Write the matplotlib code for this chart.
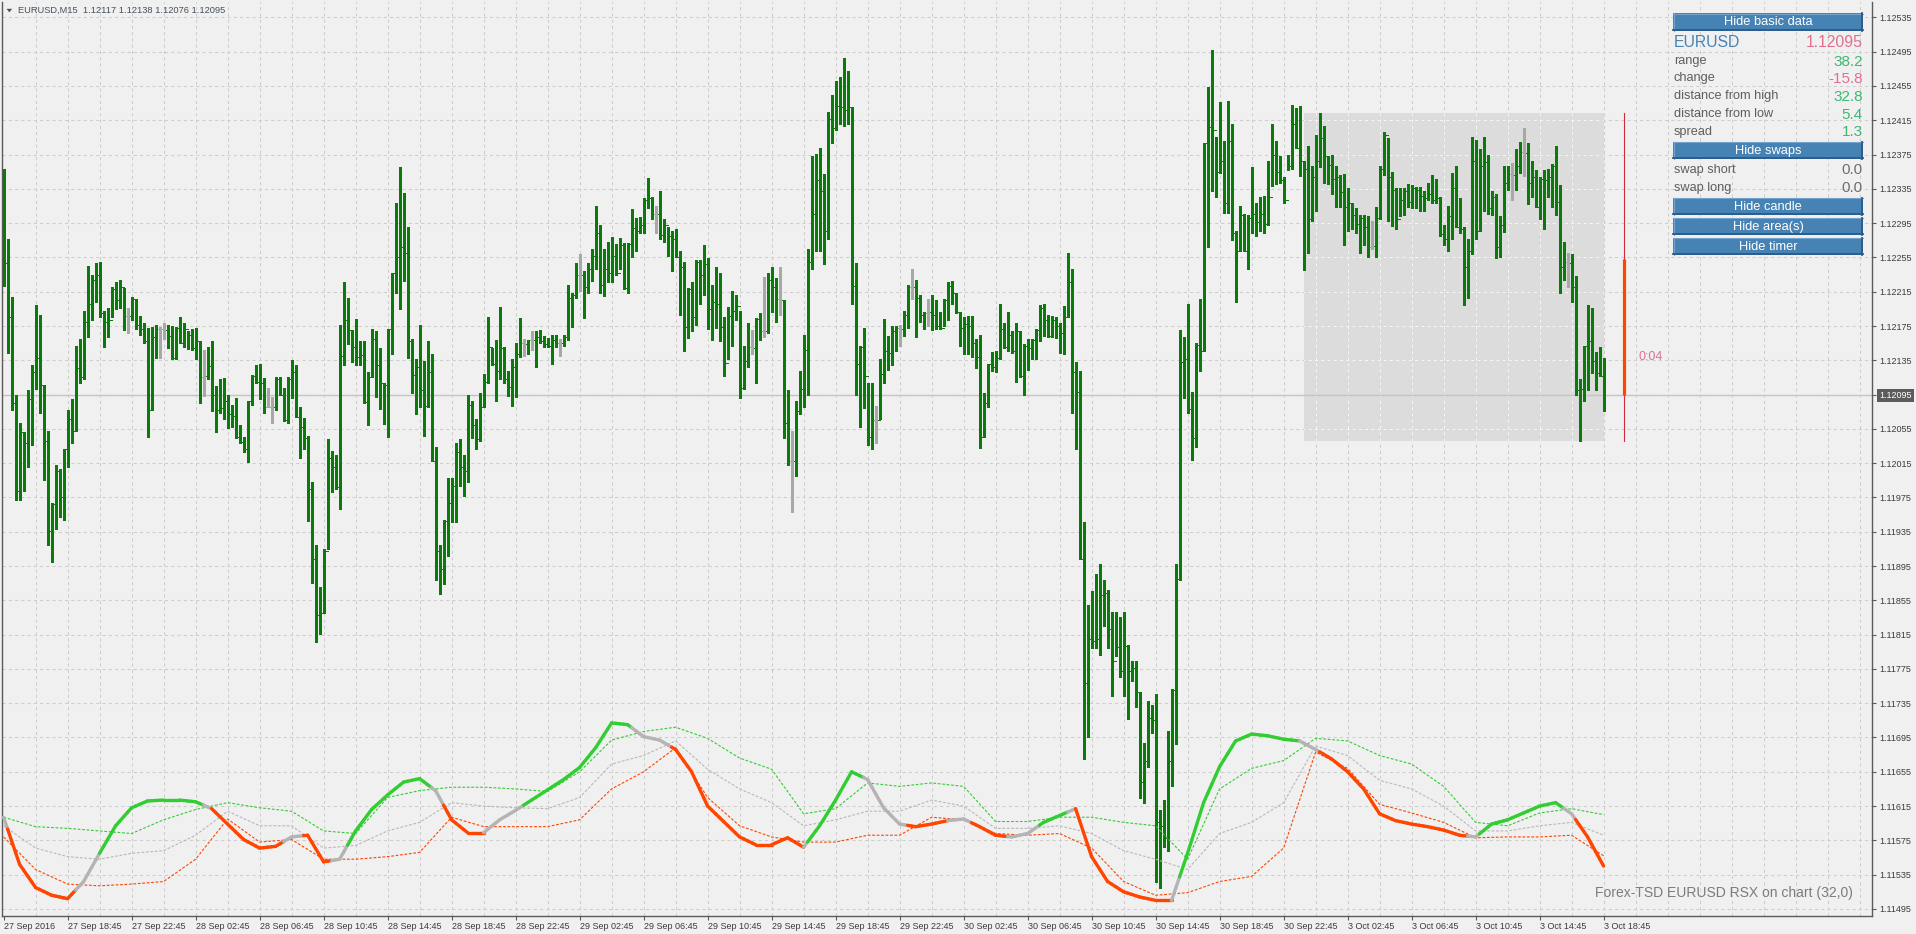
import numpy as np
import pandas as pd
import matplotlib
matplotlib.use("Agg")
import matplotlib.pyplot as plt
from matplotlib.collections import LineCollection
from matplotlib.patches import Rectangle, Polygon

plt.rcParams['font.family'] = ['Liberation Sans', 'DejaVu Sans']

# ---------------- data ----------------
symbol = "EURUSD"
timeframe = "M15"
first_bar_time = "2016-09-27 14:45"
last_bar_time = "2016-10-03 18:45"
first_open = 1.12290

highs = [
 1.12358, 1.12276, 1.12209, 1.12095, 1.12062, 1.12051, 1.12100, 1.12129, 1.12199, 1.12188,
 1.12106, 1.12052, 1.11969, 1.12013, 1.12008, 1.12032, 1.12077, 1.12090, 1.12152, 1.12160,
 1.12193, 1.12245, 1.12235, 1.12249, 1.12250, 1.12192, 1.12196, 1.12221, 1.12226, 1.12229,
 1.12219, 1.12196, 1.12209, 1.12206, 1.12187, 1.12178, 1.12173, 1.12174, 1.12176, 1.12174,
 1.12178, 1.12176, 1.12175, 1.12174, 1.12185, 1.12178, 1.12169, 1.12172, 1.12173, 1.12157,
 1.12147, 1.12150, 1.12157, 1.12105, 1.12113, 1.12114, 1.12095, 1.12083, 1.12091, 1.12060,
 1.12046, 1.12088, 1.12118, 1.12129, 1.12131, 1.12114, 1.12103, 1.12092, 1.12116, 1.12116,
 1.12103, 1.12116, 1.12135, 1.12129, 1.12080, 1.12068, 1.12047, 1.11993, 1.11920, 1.11871,
 1.11915, 1.12043, 1.12029, 1.12025, 1.12176, 1.12226, 1.12208, 1.12170, 1.12183, 1.12157,
 1.12158, 1.12121, 1.12172, 1.12169, 1.12149, 1.12108, 1.12172, 1.12237, 1.12319, 1.12360,
 1.12330, 1.12290, 1.12160, 1.12136, 1.12176, 1.12134, 1.12157, 1.12142, 1.12034, 1.11920,
 1.11949, 1.11998, 1.11998, 1.12038, 1.12043, 1.12025, 1.12095, 1.12087, 1.12067, 1.12097,
 1.12119, 1.12186, 1.12149, 1.12159, 1.12197, 1.12150, 1.12123, 1.12136, 1.12155, 1.12184,
 1.12160, 1.12159, 1.12169, 1.12169, 1.12170, 1.12163, 1.12161, 1.12164, 1.12164, 1.12160,
 1.12165, 1.12223, 1.12213, 1.12249, 1.12259, 1.12239, 1.12249, 1.12265, 1.12315, 1.12293,
 1.12265, 1.12273, 1.12279, 1.12271, 1.12278, 1.12272, 1.12272, 1.12311, 1.12301, 1.12302,
 1.12324, 1.12348, 1.12326, 1.12315, 1.12332, 1.12300, 1.12291, 1.12286, 1.12288, 1.12262,
 1.12250, 1.12219, 1.12226, 1.12252, 1.12252, 1.12270, 1.12254, 1.12223, 1.12244, 1.12237,
 1.12185, 1.12197, 1.12216, 1.12211, 1.12193, 1.12152, 1.12178, 1.12170, 1.12184, 1.12190,
 1.12232, 1.12237, 1.12244, 1.12231, 1.12244, 1.12205, 1.12100, 1.12053, 1.12088, 1.12123,
 1.12165, 1.12265, 1.12373, 1.12376, 1.12383, 1.12352, 1.12425, 1.12445, 1.12461, 1.12466,
 1.12488, 1.12473, 1.12430, 1.12248, 1.12152, 1.12173, 1.12108, 1.12108, 1.12082, 1.12137,
 1.12183, 1.12163, 1.12175, 1.12175, 1.12176, 1.12193, 1.12223, 1.12242, 1.12229, 1.12211,
 1.12191, 1.12206, 1.12211, 1.12205, 1.12191, 1.12207, 1.12226, 1.12228, 1.12213, 1.12191,
 1.12185, 1.12187, 1.12187, 1.12160, 1.12164, 1.12097, 1.12131, 1.12145, 1.12146, 1.12201,
 1.12178, 1.12191, 1.12169, 1.12178, 1.12169, 1.12154, 1.12160, 1.12160, 1.12172, 1.12199,
 1.12201, 1.12188, 1.12187, 1.12186, 1.12178, 1.12198, 1.12260, 1.12241, 1.12133, 1.12123,
 1.11946, 1.11849, 1.11866, 1.11886, 1.11897, 1.11879, 1.11867, 1.11841, 1.11841, 1.11835,
 1.11841, 1.11803, 1.11784, 1.11784, 1.11748, 1.11689, 1.11738, 1.11733, 1.11746, 1.11611,
 1.11622, 1.11702, 1.11751, 1.11897, 1.12170, 1.12162, 1.12201, 1.12098, 1.12155, 1.12207,
 1.12389, 1.12454, 1.12497, 1.12396, 1.12436, 1.12391, 1.12437, 1.12411, 1.12286, 1.12315,
 1.12306, 1.12304, 1.12361, 1.12319, 1.12326, 1.12327, 1.12368, 1.12411, 1.12391, 1.12373,
 1.12349, 1.12375, 1.12433, 1.12429, 1.12432, 1.12368, 1.12385, 1.12362, 1.12398, 1.12423,
 1.12408, 1.12373, 1.12375, 1.12362, 1.12351, 1.12352, 1.12336, 1.12319, 1.12313, 1.12305,
 1.12304, 1.12303, 1.12298, 1.12314, 1.12362, 1.12401, 1.12394, 1.12355, 1.12336, 1.12336,
 1.12336, 1.12341, 1.12339, 1.12337, 1.12337, 1.12332, 1.12342, 1.12351, 1.12347, 1.12326,
 1.12293, 1.12315, 1.12354, 1.12362, 1.12324, 1.12290, 1.12277, 1.12396, 1.12392, 1.12381,
 1.12396, 1.12375, 1.12332, 1.12329, 1.12303, 1.12362, 1.12362, 1.12365, 1.12381, 1.12390,
 1.12406, 1.12388, 1.12368, 1.12357, 1.12349, 1.12357, 1.12358, 1.12364, 1.12385, 1.12340,
 1.12273, 1.12260, 1.12259, 1.12233, 1.12113, 1.12152, 1.12200, 1.12196, 1.12145, 1.12151,
 1.12138]

lows = [
 1.12222, 1.12144, 1.12077, 1.11972, 1.11972, 1.11982, 1.12010, 1.12036, 1.12102, 1.12074,
 1.11995, 1.11920, 1.11900, 1.11938, 1.11952, 1.11949, 1.12010, 1.12039, 1.12053, 1.12108,
 1.12113, 1.12162, 1.12182, 1.12203, 1.12186, 1.12150, 1.12162, 1.12185, 1.12195, 1.12196,
 1.12170, 1.12167, 1.12182, 1.12172, 1.12164, 1.12155, 1.12045, 1.12077, 1.12138, 1.12138,
 1.12160, 1.12149, 1.12137, 1.12137, 1.12155, 1.12150, 1.12148, 1.12147, 1.12136, 1.12085,
 1.12093, 1.12113, 1.12076, 1.12051, 1.12074, 1.12066, 1.12056, 1.12057, 1.12044, 1.12038,
 1.12028, 1.12016, 1.12083, 1.12108, 1.12090, 1.12074, 1.12080, 1.12062, 1.12077, 1.12095,
 1.12064, 1.12062, 1.12091, 1.12069, 1.12021, 1.12032, 1.11948, 1.11875, 1.11806, 1.11816,
 1.11840, 1.11915, 1.11981, 1.11985, 1.11962, 1.12129, 1.12154, 1.12133, 1.12129, 1.12129,
 1.12085, 1.12059, 1.12115, 1.12092, 1.12078, 1.12061, 1.12045, 1.12142, 1.12213, 1.12195,
 1.12228, 1.12138, 1.12097, 1.12072, 1.12080, 1.12047, 1.12080, 1.12017, 1.11879, 1.11862,
 1.11874, 1.11907, 1.11946, 1.11946, 1.11988, 1.11977, 1.11993, 1.12044, 1.12031, 1.12041,
 1.12080, 1.12108, 1.12129, 1.12087, 1.12113, 1.12108, 1.12093, 1.12082, 1.12092, 1.12139,
 1.12140, 1.12142, 1.12147, 1.12127, 1.12155, 1.12150, 1.12150, 1.12131, 1.12150, 1.12140,
 1.12152, 1.12159, 1.12174, 1.12208, 1.12216, 1.12184, 1.12214, 1.12228, 1.12242, 1.12214,
 1.12210, 1.12226, 1.12226, 1.12235, 1.12241, 1.12218, 1.12214, 1.12256, 1.12263, 1.12284,
 1.12284, 1.12313, 1.12300, 1.12284, 1.12277, 1.12273, 1.12257, 1.12239, 1.12255, 1.12188,
 1.12146, 1.12161, 1.12169, 1.12176, 1.12201, 1.12211, 1.12172, 1.12159, 1.12173, 1.12157,
 1.12117, 1.12136, 1.12152, 1.12182, 1.12091, 1.12102, 1.12127, 1.12142, 1.12108, 1.12159,
 1.12162, 1.12167, 1.12191, 1.12180, 1.12188, 1.12044, 1.12013, 1.11958, 1.12000, 1.12072,
 1.12080, 1.12095, 1.12241, 1.12263, 1.12263, 1.12247, 1.12276, 1.12389, 1.12404, 1.12411,
 1.12408, 1.12411, 1.12201, 1.12095, 1.12057, 1.12079, 1.12036, 1.12032, 1.12038, 1.12067,
 1.12108, 1.12124, 1.12129, 1.12146, 1.12152, 1.12163, 1.12173, 1.12207, 1.12162, 1.12180,
 1.12172, 1.12175, 1.12170, 1.12172, 1.12172, 1.12175, 1.12182, 1.12201, 1.12190, 1.12152,
 1.12142, 1.12142, 1.12139, 1.12126, 1.12033, 1.12046, 1.12080, 1.12123, 1.12121, 1.12137,
 1.12149, 1.12146, 1.12144, 1.12110, 1.12116, 1.12095, 1.12124, 1.12136, 1.12136, 1.12157,
 1.12163, 1.12162, 1.12162, 1.12161, 1.12144, 1.12142, 1.12185, 1.12074, 1.12031, 1.11903,
 1.11670, 1.11695, 1.11799, 1.11799, 1.11791, 1.11825, 1.11799, 1.11743, 1.11790, 1.11765,
 1.11743, 1.11716, 1.11761, 1.11730, 1.11625, 1.11619, 1.11661, 1.11700, 1.11527, 1.11519,
 1.11567, 1.11563, 1.11638, 1.11687, 1.11879, 1.12091, 1.12074, 1.12019, 1.12034, 1.12123,
 1.12146, 1.12267, 1.12332, 1.12326, 1.12354, 1.12307, 1.12307, 1.12275, 1.12203, 1.12263,
 1.12262, 1.12242, 1.12283, 1.12280, 1.12286, 1.12284, 1.12293, 1.12338, 1.12341, 1.12342,
 1.12318, 1.12357, 1.12358, 1.12383, 1.12350, 1.12240, 1.12260, 1.12298, 1.12309, 1.12360,
 1.12342, 1.12341, 1.12329, 1.12314, 1.12314, 1.12270, 1.12286, 1.12288, 1.12283, 1.12260,
 1.12269, 1.12256, 1.12265, 1.12256, 1.12300, 1.12351, 1.12298, 1.12292, 1.12288, 1.12303,
 1.12305, 1.12314, 1.12313, 1.12313, 1.12309, 1.12309, 1.12322, 1.12319, 1.12319, 1.12280,
 1.12270, 1.12263, 1.12277, 1.12290, 1.12283, 1.12200, 1.12208, 1.12259, 1.12277, 1.12286,
 1.12309, 1.12306, 1.12305, 1.12254, 1.12255, 1.12285, 1.12334, 1.12322, 1.12334, 1.12354,
 1.12350, 1.12317, 1.12326, 1.12314, 1.12300, 1.12288, 1.12326, 1.12314, 1.12305, 1.12214,
 1.12229, 1.12221, 1.12203, 1.12095, 1.12041, 1.12088, 1.12100, 1.12120, 1.12100, 1.12117,
 1.12076]

closes = [
 1.12248, 1.12185, 1.12085, 1.11982, 1.12051, 1.12039, 1.12090, 1.12121, 1.12138, 1.12106,
 1.12041, 1.11936, 1.11967, 1.12006, 1.11975, 1.12031, 1.12066, 1.12052, 1.12126, 1.12116,
 1.12180, 1.12201, 1.12229, 1.12234, 1.12190, 1.12180, 1.12182, 1.12218, 1.12205, 1.12221,
 1.12187, 1.12187, 1.12206, 1.12176, 1.12171, 1.12157, 1.12077, 1.12162, 1.12172, 1.12171,
 1.12170, 1.12163, 1.12138, 1.12173, 1.12155, 1.12171, 1.12165, 1.12149, 1.12157, 1.12116,
 1.12117, 1.12128, 1.12095, 1.12077, 1.12079, 1.12087, 1.12072, 1.12070, 1.12045, 1.12040,
 1.12031, 1.12087, 1.12117, 1.12110, 1.12108, 1.12080, 1.12080, 1.12080, 1.12113, 1.12095,
 1.12065, 1.12113, 1.12121, 1.12069, 1.12057, 1.12044, 1.11985, 1.11903, 1.11838, 1.11840,
 1.11913, 1.12021, 1.12010, 1.11987, 1.12140, 1.12182, 1.12170, 1.12150, 1.12139, 1.12141,
 1.12086, 1.12116, 1.12160, 1.12129, 1.12108, 1.12106, 1.12171, 1.12237, 1.12256, 1.12267,
 1.12260, 1.12157, 1.12118, 1.12127, 1.12100, 1.12082, 1.12121, 1.12018, 1.11913, 1.11892,
 1.11947, 1.11969, 1.11988, 1.12028, 1.12011, 1.12006, 1.12083, 1.12059, 1.12043, 1.12080,
 1.12110, 1.12150, 1.12131, 1.12123, 1.12149, 1.12113, 1.12104, 1.12127, 1.12142, 1.12155,
 1.12154, 1.12159, 1.12159, 1.12162, 1.12157, 1.12154, 1.12152, 1.12159, 1.12155, 1.12155,
 1.12162, 1.12208, 1.12211, 1.12234, 1.12235, 1.12221, 1.12241, 1.12257, 1.12284, 1.12223,
 1.12241, 1.12237, 1.12257, 1.12237, 1.12270, 1.12219, 1.12271, 1.12289, 1.12286, 1.12293,
 1.12322, 1.12324, 1.12306, 1.12306, 1.12281, 1.12293, 1.12280, 1.12277, 1.12256, 1.12244,
 1.12174, 1.12218, 1.12185, 1.12250, 1.12234, 1.12247, 1.12195, 1.12203, 1.12201, 1.12174,
 1.12132, 1.12187, 1.12193, 1.12198, 1.12103, 1.12134, 1.12150, 1.12149, 1.12183, 1.12169,
 1.12169, 1.12229, 1.12221, 1.12206, 1.12205, 1.12062, 1.12018, 1.12017, 1.12076, 1.12102,
 1.12147, 1.12250, 1.12306, 1.12345, 1.12333, 1.12286, 1.12417, 1.12406, 1.12432, 1.12430,
 1.12427, 1.12430, 1.12222, 1.12131, 1.12150, 1.12117, 1.12045, 1.12065, 1.12065, 1.12119,
 1.12146, 1.12144, 1.12169, 1.12173, 1.12172, 1.12188, 1.12221, 1.12221, 1.12208, 1.12188,
 1.12190, 1.12191, 1.12188, 1.12175, 1.12173, 1.12205, 1.12222, 1.12213, 1.12191, 1.12173,
 1.12177, 1.12175, 1.12155, 1.12139, 1.12045, 1.12085, 1.12131, 1.12127, 1.12138, 1.12172,
 1.12150, 1.12165, 1.12146, 1.12169, 1.12117, 1.12152, 1.12149, 1.12159, 1.12170, 1.12196,
 1.12182, 1.12163, 1.12182, 1.12175, 1.12167, 1.12186, 1.12226, 1.12121, 1.12098, 1.11903,
 1.11759, 1.11810, 1.11807, 1.11810, 1.11861, 1.11864, 1.11822, 1.11784, 1.11801, 1.11772,
 1.11802, 1.11772, 1.11776, 1.11748, 1.11643, 1.11668, 1.11718, 1.11715, 1.11596, 1.11592,
 1.11578, 1.11668, 1.11750, 1.11880, 1.12133, 1.12137, 1.12078, 1.12044, 1.12153, 1.12146,
 1.12388, 1.12407, 1.12404, 1.12355, 1.12368, 1.12318, 1.12391, 1.12283, 1.12263, 1.12305,
 1.12262, 1.12301, 1.12306, 1.12296, 1.12306, 1.12294, 1.12326, 1.12375, 1.12355, 1.12345,
 1.12322, 1.12362, 1.12411, 1.12383, 1.12368, 1.12358, 1.12300, 1.12349, 1.12368, 1.12394,
 1.12373, 1.12363, 1.12347, 1.12349, 1.12331, 1.12314, 1.12319, 1.12305, 1.12294, 1.12301,
 1.12290, 1.12267, 1.12268, 1.12301, 1.12358, 1.12398, 1.12349, 1.12334, 1.12300, 1.12322,
 1.12332, 1.12320, 1.12336, 1.12334, 1.12327, 1.12324, 1.12329, 1.12322, 1.12324, 1.12282,
 1.12277, 1.12303, 1.12336, 1.12290, 1.12288, 1.12244, 1.12262, 1.12368, 1.12286, 1.12362,
 1.12366, 1.12313, 1.12326, 1.12267, 1.12293, 1.12342, 1.12352, 1.12351, 1.12362, 1.12378,
 1.12377, 1.12342, 1.12349, 1.12314, 1.12347, 1.12345, 1.12349, 1.12362, 1.12320, 1.12244,
 1.12250, 1.12249, 1.12221, 1.12100, 1.12102, 1.12152, 1.12157, 1.12134, 1.12120, 1.12117,
 1.12095]

# RSX on chart: main line sampled every 4 bars
rsx_step = 4
rsx_values = [
 1.11602, 1.11547, 1.11520, 1.11511, 1.11507, 1.11527, 1.11560, 1.11592, 1.11613, 1.11621,
 1.11622, 1.11622, 1.11620, 1.11612, 1.11594, 1.11576, 1.11566, 1.11568, 1.11579, 1.11581,
 1.11550, 1.11553, 1.11586, 1.11611, 1.11628, 1.11643, 1.11647, 1.11633, 1.11599, 1.11584,
 1.11584, 1.11599, 1.11610, 1.11622, 1.11634, 1.11646, 1.11660, 1.11683, 1.11712, 1.11710,
 1.11696, 1.11692, 1.11681, 1.11655, 1.11615, 1.11597, 1.11579, 1.11570, 1.11570, 1.11578,
 1.11567, 1.11592, 1.11622, 1.11655, 1.11646, 1.11613, 1.11594, 1.11591, 1.11594, 1.11598,
 1.11600, 1.11591, 1.11581, 1.11579, 1.11583, 1.11596, 1.11604, 1.11612, 1.11556, 1.11527,
 1.11515, 1.11509, 1.11505, 1.11505, 1.11560, 1.11619, 1.11661, 1.11691, 1.11699, 1.11697,
 1.11693, 1.11691, 1.11681, 1.11670, 1.11655, 1.11635, 1.11606, 1.11598, 1.11594, 1.11591,
 1.11587, 1.11581, 1.11579, 1.11594, 1.11599, 1.11607, 1.11615, 1.11619, 1.11606, 1.11579,
 1.11545]
# state changes of the RSX line: bar index where a state starts (1 up, -1 down, 0 neutral)
rsx_state_start = [0, 2, 19, 25, 51, 53, 71, 76, 83, 87, 108, 111, 121, 131, 158, 168, 201, 202,
                   216, 227, 237, 243, 252, 260, 267, 269, 293, 295, 325, 330, 367, 370, 391, 394]
rsx_state_code = [0, -1, 0, 1, 0, -1, 0, -1, 0, 1, 0, -1, 0, 1, 0, -1, 0, 1,
                  0, -1, 0, -1, 0, 1, 0, -1, 0, 1, 0, -1, 0, 1, 0, -1]

# floating levels, sampled every 8 bars
level_step = 8
level_up = [
 1.11602, 1.11591, 1.11589, 1.11586, 1.11583, 1.11599, 1.11611, 1.11619, 1.11613, 1.11609,
 1.11586, 1.11583, 1.11625, 1.11633, 1.11637, 1.11637, 1.11635, 1.11632, 1.11655, 1.11692,
 1.11702, 1.11707, 1.11694, 1.11671, 1.11658, 1.11606, 1.11612, 1.11642, 1.11638, 1.11642,
 1.11638, 1.11597, 1.11597, 1.11602, 1.11602, 1.11596, 1.11592, 1.11553, 1.11635, 1.11659,
 1.11668, 1.11694, 1.11691, 1.11674, 1.11664, 1.11638, 1.11596, 1.11592, 1.11607, 1.11612,
 1.11605]
level_mid = [
 1.11592, 1.11566, 1.11556, 1.11553, 1.11560, 1.11563, 1.11581, 1.11609, 1.11592, 1.11592,
 1.11566, 1.11569, 1.11586, 1.11596, 1.11619, 1.11615, 1.11613, 1.11612, 1.11625, 1.11664,
 1.11674, 1.11691, 1.11658, 1.11635, 1.11619, 1.11592, 1.11599, 1.11609, 1.11609, 1.11622,
 1.11615, 1.11589, 1.11589, 1.11592, 1.11583, 1.11563, 1.11553, 1.11541, 1.11583, 1.11596,
 1.11619, 1.11685, 1.11674, 1.11645, 1.11635, 1.11615, 1.11586, 1.11586, 1.11592, 1.11596,
 1.11581]
level_dn = [
 1.11579, 1.11541, 1.11524, 1.11522, 1.11524, 1.11527, 1.11553, 1.11600, 1.11573, 1.11576,
 1.11553, 1.11553, 1.11556, 1.11561, 1.11602, 1.11591, 1.11591, 1.11591, 1.11599, 1.11635,
 1.11655, 1.11683, 1.11625, 1.11592, 1.11579, 1.11573, 1.11573, 1.11581, 1.11581, 1.11602,
 1.11599, 1.11583, 1.11581, 1.11583, 1.11566, 1.11527, 1.11511, 1.11514, 1.11527, 1.11533,
 1.11566, 1.11678, 1.11659, 1.11617, 1.11607, 1.11596, 1.11578, 1.11579, 1.11579, 1.11581,
 1.11557]

# daily info (panel, day range area, day candle)
day_open = 1.12253
day_high = 1.12423
day_low = 1.12041
spread_pips = 1.3
swap_short = 0.0
swap_long = 0.0
timer_text = "0:04"
indicator_label = "Forex-TSD EURUSD RSX on chart (32,0)"
price_ticks = [1.12535, 1.12495, 1.12455, 1.12415, 1.12375, 1.12335, 1.12295, 1.12255, 1.12215,
               1.12175, 1.12135, 1.12095, 1.12055, 1.12015, 1.11975, 1.11935, 1.11895, 1.11855,
               1.11815, 1.11775, 1.11735, 1.11695, 1.11655, 1.11615, 1.11575, 1.11535, 1.11495]

# ---------------- figure ----------------
W, H = 1916, 934
BG = '#f0f0f0'
AX_L, AX_R, AX_T, AX_B = 2, 1872, 2, 916
BAR_X0, BAR_DX = 3.6, 4.0
PX_PER_PRICE = 34.29 / 0.0004
REF_P, REF_Y = 1.12495, 51.7

fig = plt.figure(figsize=(W / 100, H / 100), dpi=100)
fig.patch.set_facecolor(BG)
ax = fig.add_axes([AX_L / W, 1 - AX_B / H, (AX_R - AX_L) / W, (AX_B - AX_T) / H])
ax.set_facecolor(BG)
ax.set_xlim((AX_L - BAR_X0) / BAR_DX, (AX_R - BAR_X0) / BAR_DX)
ax.set_ylim(REF_P - (AX_B - REF_Y) / PX_PER_PRICE, REF_P + (REF_Y - AX_T) / PX_PER_PRICE)

n = len(closes)
times = pd.date_range(first_bar_time, last_bar_time, freq='15min')
times = times[times.dayofweek < 5]
x = np.arange(n)
o = np.array([first_open] + closes[:-1])
h = np.array(highs)
l = np.array(lows)
c = np.array(closes)
last_close = c[-1]

# spines
for s in ['left', 'bottom', 'right']:
    ax.spines[s].set_color('#5a5a5a')
    ax.spines[s].set_linewidth(1.0)
ax.spines['top'].set_visible(False)

# day range area
day_start = int(np.where(times.normalize() == times[-1].normalize())[0][0])
area = Rectangle((day_start, day_low), (n - 1) - day_start, day_high - day_low,
                 facecolor='#dcdcdc', edgecolor='none', zorder=0.5)
ax.add_patch(area)

# grid
grid_style = dict(lw=0.75, ls=(0, (3, 3)), zorder=1)
vx = np.arange(8, ax.get_xlim()[1], 8)
for gx in vx:
    ax.axvline(gx, color='#cdcdcd', **grid_style)
    ln = ax.axvline(gx, color='#f6f6f6', **grid_style)
    ln.set_clip_path(area)
for p in price_ticks:
    ax.axhline(p, color='#cdcdcd', **grid_style)
    ln = ax.axhline(p, color='#f6f6f6', **grid_style)
    ln.set_clip_path(area)

# bid line
ax.axhline(last_close, color='#c4c4c4', lw=1.0, zorder=1.5)

# OHLC bars
doji = np.isclose(o, c)
bar_cols = np.where(doji, '#a8a8a8', '#0a7a0a')
segs = [[(i, l[i]), (i, h[i])] for i in range(n)]
lc = LineCollection(segs, colors=bar_cols, linewidths=1.05, zorder=3, antialiaseds=False)
ax.add_collection(lc)
ticks = [[(i - 0.3, o[i]), (i, o[i])] for i in range(n)] + \
        [[(i, c[i]), (i + 0.3, c[i])] for i in range(n)]
tc = LineCollection(ticks, colors=list(bar_cols) * 2, linewidths=0.72, zorder=3, antialiaseds=False)
ax.add_collection(tc)

# RSX levels
lx = np.arange(0, n, level_step)
ax.plot(lx, level_up, color='#32cd32', lw=0.8, ls=(0, (2.5, 1.5)), zorder=4)
ax.plot(lx, level_mid, color='#b8b8b8', lw=0.8, ls=(0, (2.5, 1.5)), zorder=4)
ax.plot(lx, level_dn, color='#ff4500', lw=0.8, ls=(0, (2.5, 1.5)), zorder=4)

# RSX main line, coloured by state
sx = np.arange(0, n, rsx_step)
ry = np.interp(x, sx, rsx_values)
state = np.zeros(n, dtype=int)
for st, code in zip(rsx_state_start, rsx_state_code):
    state[st:] = code
cmap = {1: '#32cd32', -1: '#ff4500', 0: '#b4b4b4'}
rsegs = [[(i, ry[i]), (i + 1, ry[i + 1])] for i in range(n - 1)]
rcols = [cmap[state[i + 1]] for i in range(n - 1)]
ax.add_collection(LineCollection(rsegs, colors=rcols, linewidths=2.4, zorder=5, capstyle='round'))

# day candle
cx = n - 1 + 5
ax.plot([cx, cx], [day_low, day_high], color='#d42a3c', lw=0.8, zorder=5)
ax.plot([cx, cx], [last_close, day_open], color='#ff4500', lw=2.3, zorder=5, solid_capstyle='butt')

# axes ticks
xt = list(range(0, n, 16))
xl = []
for k in xt:
    t = times[k]
    if k == 0:
        xl.append(f"{t.day} {t.strftime('%b %Y')}")
    else:
        xl.append(f"{t.day} {t.strftime('%b %H:%M')}")
ax.set_xticks(xt)
ax.set_xticklabels(xl, ha='left')
ax.tick_params(axis='x', length=3, width=0.8, color='#5a5a5a', pad=1.5, labelsize=6.5, labelcolor='#3c3c3c')
ax.yaxis.tick_right()
ax.set_yticks(price_ticks)
ax.set_yticklabels([f"{p:.5f}" for p in price_ticks])
ax.tick_params(axis='y', length=3, width=0.8, color='#5a5a5a', pad=2.5, labelsize=6.5, labelcolor='#3c3c3c')
for lab, p in zip(ax.get_yticklabels(), price_ticks):
    if abs(p - last_close) < 1e-7:
        lab.set_color('white')
        lab.set_bbox(dict(boxstyle='square,pad=0.25', fc='#5c5c5c', ec='none'))

# ---------------- overlay (pixel coordinates) ----------------
ov = fig.add_axes([0, 0, 1, 1], zorder=10)
ov.set_xlim(0, W)
ov.set_ylim(H, 0)
ov.axis('off')
ov.patch.set_alpha(0)

# title
ov.add_patch(Polygon([(6.5, 8.8), (12.2, 8.8), (9.35, 12.3)], closed=True, fc='#505050', ec='none'))
ov.text(18, 10.5, f"{symbol},{timeframe}  {o[-1]:.5f} {h[-1]:.5f} {l[-1]:.5f} {c[-1]:.5f}",
        fontsize=6.7, color='#46505a', va='center', ha='left')

# info panel
PX0, PX1 = 1673.3, 1862.7


def button(y0, y1, label):
    ov.add_patch(Rectangle((PX0, y0), PX1 - PX0, y1 - y0, fc='#4682b4', ec='none'))
    ov.plot([PX0, PX1], [y0 + 0.5, y0 + 0.5], color='#74a3d0', lw=0.8)
    ov.plot([PX0 + 0.5, PX0 + 0.5], [y0, y1], color='#74a3d0', lw=0.8)
    ov.plot([PX0, PX1], [y1 - 0.8, y1 - 0.8], color='#2b5a88', lw=1.3)
    ov.plot([PX1 - 0.8, PX1 - 0.8], [y0, y1], color='#2b5a88', lw=1.3)
    ov.text((PX0 + PX1) / 2, (y0 + y1) / 2 + 0.3, label, color='white', fontsize=9.3,
            ha='center', va='center')


GREEN_T = '#3cb873'
PINK_T = '#e0708e'
GRAY_T = '#5e5e5e'
button(13.3, 31.0, "Hide basic data")
ov.text(PX0, 42.8, symbol, fontsize=11.3, color='#4682b4', ha='left', va='center')
ov.text(PX1, 42.8, f"{last_close:.5f}", fontsize=11.3, color=PINK_T, ha='right', va='center')
rows = [
    ("range", (day_high - day_low) / 0.0001, GREEN_T, 61.0),
    ("change", (last_close - day_open) / 0.0001, PINK_T, 78.5),
    ("distance from high", (day_high - last_close) / 0.0001, GREEN_T, 96.2),
    ("distance from low", (last_close - day_low) / 0.0001, GREEN_T, 113.8),
    ("spread", spread_pips, GREEN_T, 131.6),
]
for name, val, colr, yy in rows:
    ov.text(PX0 + 0.5, yy, name, fontsize=9.2, color=GRAY_T, ha='left', va='center')
    ov.text(PX1, yy + 0.8, f"{val:.1f}", fontsize=11, color=colr, ha='right', va='center')
button(141.7, 159.0, "Hide swaps")
for name, val, yy in [("swap short", swap_short, 169.5), ("swap long", swap_long, 187.5)]:
    ov.text(PX0 + 0.5, yy, name, fontsize=9.2, color=GRAY_T, ha='left', va='center')
    ov.text(PX1, yy + 0.8, f"{val:.1f}", fontsize=11, color='#6e6e6e', ha='right', va='center')
button(197.7, 215.0, "Hide candle")
button(217.7, 235.0, "Hide area(s)")
button(237.7, 255.0, "Hide timer")

# timer text
ov.text(1650.7, 357.0, timer_text, fontsize=9, color=PINK_T, ha='center', va='center')

# indicator label
ov.text(1852.5, 893.5, indicator_label, fontsize=10, color='#7c7c7c', ha='right', va='center')

fig.savefig('out.png', dpi=100, facecolor=BG)
